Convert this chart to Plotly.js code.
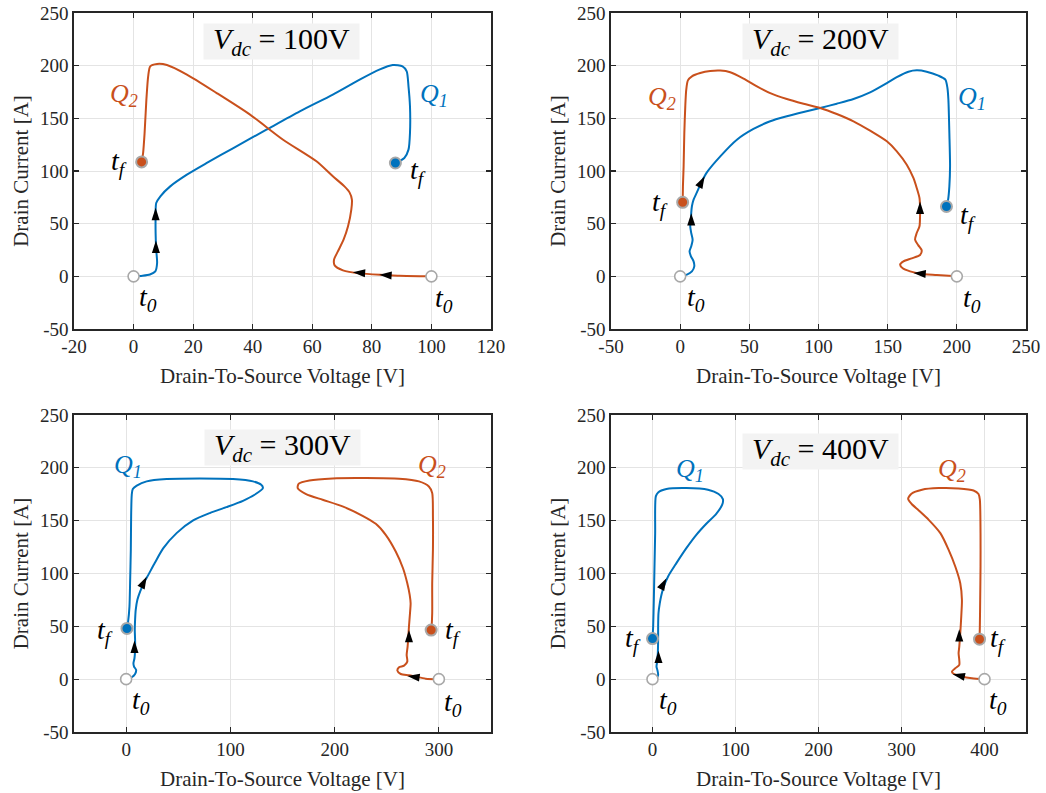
<!DOCTYPE html>
<html>
<head>
<meta charset="utf-8">
<script src="https://cdn.plot.ly/plotly-3.0.1.min.js"></script>
<style>
  html, body { margin: 0; padding: 0; background: #ffffff; }
  #chart { width: 1046px; height: 793px; }
</style>
</head>
<body>
<div id="chart"></div>
<script>
// Switching trajectories (drain current vs drain-to-source voltage) of the two
// devices Q1 and Q2 for four DC-link voltages.

const dcVoltages = [100, 200, 300, 400];

// ---- Vdc = 100 V ----
const q1V_100 = [0, 3, 5.5, 7.3, 7.9, 7.6, 7.4, 7.4, 7.6, 9.0, 12.3, 17.9, 24.6, 33.5, 44.6, 55.8, 66.9, 75.9, 82.5, 87, 90.3, 91.7, 92.3, 92.8, 92.8, 92.3, 90.9, 87.9];
const q1I_100 = [0, 0.6, 1.8, 4.7, 12.7, 25.3, 41, 57, 69.6, 76, 85.4, 96.5, 107.6, 121.8, 139.2, 156.6, 172.5, 186.7, 196.2, 200.6, 199.4, 194.6, 180.4, 161.4, 136, 120.3, 112.3, 107.6];
const q2V_100 = [100, 89.2, 84.8, 75.9, 70.3, 67.5, 67.3, 68.6, 70.5, 72, 73.1, 73.3, 72.5, 70.8, 66.9, 61.4, 50.2, 39.1, 27.9, 17.9, 11.2, 7.9, 5.6, 4.9, 4.3, 3.7, 3.2, 2.7];
const q2I_100 = [0, 0.6, 1.3, 2.8, 5.7, 10.4, 15.8, 23.7, 34.8, 47.5, 63.3, 72.8, 79.7, 85.4, 95, 109.2, 129.7, 153.5, 174, 191.5, 200.6, 201.6, 199.4, 189.9, 167.7, 136, 117, 108.6];

// ---- Vdc = 200 V ----
const q1V_200 = [0, 4.9, 8.5, 10.2, 9.7, 7.8, 6.8, 8.0, 9.0, 8.0, 7.3, 7.8, 8.0, 8.5, 9.7, 12.1, 15.7, 19.3, 29, 41, 53, 65.1, 77.1, 89.2, 101.2, 113.2, 125.3, 137.3, 149.4, 156.6, 165, 171, 178.2, 186.7, 191.7, 193.2, 193.9, 194.6, 195.1, 194.6, 193.7, 192.5];
const q1I_200 = [0, 1.6, 4.7, 9.5, 14.2, 19, 23.7, 28.5, 34.8, 41.1, 47.5, 53.8, 60.1, 66.5, 72.8, 79.7, 90.2, 98.7, 113.9, 129.7, 139.9, 147.2, 151.9, 156, 159.8, 163.9, 168.4, 174.7, 183.5, 189.2, 194.3, 195.6, 194.3, 190.5, 186.7, 178.8, 167.7, 136, 104.4, 85.4, 72.8, 66.3];
const q2V_200 = [200, 185.5, 173.4, 166.2, 160.9, 159, 161.4, 167.4, 173.4, 174.6, 172.2, 169.8, 171, 173, 173.4, 173.4, 173, 171, 168.6, 163.8, 156.6, 149.4, 137.3, 125.3, 113.2, 101.2, 89.2, 77.1, 65.1, 55.5, 45.8, 36.2, 29, 21.7, 14.5, 8.5, 5.6, 4.4, 3.7, 3, 2.5, 2, 1.8];
const q2I_200 = [0, 1.3, 2.5, 4.7, 7.6, 11.1, 14.2, 17.1, 20.3, 24.7, 29.4, 34.8, 41.1, 47.5, 57, 66.5, 74.4, 83.9, 93.4, 106, 118.7, 128.2, 138.3, 147.2, 154.1, 159.8, 163.9, 168.4, 174, 180.4, 187.7, 193.7, 195.3, 194.9, 193, 189.9, 186, 177.2, 161.4, 136, 104.4, 85.4, 70.3];

// ---- Vdc = 300 V ----
const q1V_300 = [0, 5.4, 8.6, 9.6, 7.6, 7, 8, 8.6, 8.6, 8.3, 8.6, 9.2, 10.8, 13.4, 17.2, 21.3, 27.7, 35.7, 48.4, 64.3, 80.3, 96.2, 112.1, 123.2, 131.2, 129.6, 121.7, 102.5, 70.7, 38.9, 19.7, 10.2, 6.4, 5.4, 4.8, 4.5, 3.8, 3.2, 1.9, 0.8];
const q1I_300 = [0, 1.8, 4.9, 8.7, 11.9, 15.1, 19.8, 27.7, 37.2, 46.6, 56.1, 65.6, 75.1, 82.9, 91.5, 98.7, 110.4, 124, 138.2, 150.2, 157.2, 162.8, 168.8, 174.5, 180.8, 184, 187.2, 189.4, 190, 189.4, 187.2, 183.1, 179.9, 174.5, 154, 122.4, 90.8, 68.7, 54.5, 48];
const q2V_300 = [300, 287.3, 277.7, 271.3, 263.4, 260.2, 261.8, 266.6, 269.7, 269.1, 270, 270.7, 271.3, 272.3, 272.9, 272, 269.7, 265.6, 258.6, 249, 239.5, 226.8, 207.6, 188.5, 172.6, 164.6, 165.6, 175.8, 198.1, 229.9, 261.8, 280.9, 290.4, 293.6, 294.3, 294.3, 293.6, 293.6, 293, 292.6];
const q2I_300 = [0, 0.5, 2.4, 3.7, 4.9, 8.1, 11.3, 12.8, 16.6, 22.9, 30.8, 40.3, 49.8, 62.4, 71.9, 79.8, 90.8, 105, 120.8, 136.6, 147, 154.6, 163.5, 169.8, 175.2, 180.8, 185, 188.1, 190, 190.3, 189.7, 187.2, 182.4, 176.1, 154, 122.4, 90.8, 62.4, 49.8, 46.5];

// ---- Vdc = 400 V ----
const q1V_400 = [0, 4.8, 6.8, 6, 4.8, 5.6, 6.4, 6.8, 6.8, 7.2, 8.8, 10.8, 13.6, 18.8, 28.8, 40.8, 52.8, 64.8, 76.8, 84, 84.8, 79.6, 66.8, 40.8, 16.8, 6.8, 4, 3.2, 2.4, 1.6, 0.8, 0];
const q1I_400 = [0, 0.9, 4.1, 8.2, 11.9, 16.6, 24.5, 37.2, 49.8, 62.4, 71.9, 79.8, 87.7, 97.2, 109.8, 124, 136.6, 147.1, 156.5, 165.1, 170.4, 175.2, 179.3, 180.8, 179.9, 176.7, 173, 138.2, 106.6, 75.1, 49.8, 38.4];
const q2V_400 = [400, 384.8, 372.8, 362.8, 360.8, 364.8, 369.6, 369.6, 368.8, 369.6, 370.8, 372, 372.8, 370.8, 364.8, 356.8, 346.8, 332.8, 320.8, 312, 308, 312, 324.8, 344.8, 368.8, 386.8, 392.8, 394.4, 395.2, 395.2, 394.8, 394.4, 394];
const q2I_400 = [0, 0.9, 2.5, 5.1, 7.2, 10.3, 13.5, 18.2, 24.5, 30.8, 43.5, 59.3, 75.1, 90.8, 106.6, 122.4, 138.2, 150.8, 159.7, 166, 170.7, 175.5, 179.3, 180.8, 180.5, 178.6, 175.2, 169.8, 138.2, 106.6, 75.1, 49.8, 37.8];

// Direction arrows along each trajectory: tip voltage, tip current, heading (deg, clockwise from up)
const q1ArrowV = [[7.5, 7.4], [8, 17.7], [8, 19.7], [7.2, 16.8]];
const q1ArrowI = [[34, 65], [60, 95], [36.5, 97], [27, 95.6]];
const q1ArrowDir = [[0, 0], [0, 28], [0, 27], [0, 28]];
const q2ArrowV = [[82.5, 73.6], [168.6, 173.4], [269.7, 271.3], [361.6, 369.6]];
const q2ArrowI = [[1.6, 3.8], [3.2, 71], [3.1, 46.6], [4.6, 47.3]];
const q2ArrowDir = [[-86, -86], [-85, 0], [-82, 0], [-78, 0]];

const curves = [
  [[q1V_100, q1I_100], [q2V_100, q2I_100]],
  [[q1V_200, q1I_200], [q2V_200, q2I_200]],
  [[q1V_300, q1I_300], [q2V_300, q2I_300]],
  [[q1V_400, q1I_400], [q2V_400, q2I_400]]
];

// ---------- presentation ----------
const W = 1046, H = 793;
const BLUE = '#0072BD', ORANGE = '#C9501C';
const SERIF = 'Liberation Serif, Times New Roman, Times, serif';
const AX_COLOR = '#262626';

// plot boxes in pixels: [left, right, top, bottom]
const boxes = [
  [74, 491, 13, 329],
  [611, 1026, 13, 329],
  [74, 491, 415, 732],
  [611, 1026, 415, 732]
];
const xRanges = [[-20, 120], [-50, 250], [-50, 350], [-50, 450]];
const xTicks = [[-20, 0, 20, 40, 60, 80, 100, 120], [-50, 0, 50, 100, 150, 200, 250], [0, 100, 200, 300], [0, 100, 200, 300, 400]];

// text placement in data units per panel
const boxPos = [[49.8, 222.9], [101.4, 222.9], [149.8, 219.5], [202.4, 215.7]];
const q1LabelPos = [[101, 172.5], [210.7, 169.3], [2.2, 201.4], [44.8, 198]];
const q2LabelPos = [[-3.3, 172.5], [-13.2, 169.3], [293.6, 201.4], [360.8, 198]];
const q1TfPos = [[95.4, 100], [208.3, 57], [-20, 45], [-24, 37.2]];
const q2TfPos = [[-5, 107.6], [-14.4, 69.6], [314, 45], [416.8, 37.2]];
const q1T0Pos = [[5, -20.6], [11.6, -20.6], [14.3, -21.3], [18.8, -21.3]];
const q2T0Pos = [[104.3, -22], [210.7, -22], [313.4, -23], [416.8, -21.3]];

const traces = [];
const annotations = [];
const layout = {
  width: W, height: H,
  margin: {l: 0, r: 0, t: 0, b: 0},
  paper_bgcolor: '#ffffff',
  plot_bgcolor: '#ffffff',
  showlegend: false,
  font: {family: SERIF, color: AX_COLOR, size: 19},
  annotations: annotations
};

function axisCommon() {
  return {
    showline: true, linecolor: AX_COLOR, linewidth: 1.6, mirror: 'allticks',
    ticks: 'inside', ticklen: 5, tickwidth: 1.2, tickcolor: AX_COLOR,
    showgrid: true, gridcolor: '#e4e4e4', gridwidth: 1,
    zeroline: false,
    tickfont: {family: SERIF, size: 19, color: AX_COLOR},
    fixedrange: true
  };
}

dcVoltages.forEach((vdc, p) => {
  const n = p === 0 ? '' : String(p + 1);
  const xa = 'x' + n, ya = 'y' + n;
  const [l, r, t, b] = boxes[p];

  layout['xaxis' + n] = Object.assign(axisCommon(), {
    domain: [l / W, r / W], range: xRanges[p], anchor: ya,
    tickmode: 'array', tickvals: xTicks[p], ticktext: xTicks[p].map(String),
    title: {text: 'Drain-To-Source Voltage [V]', font: {family: SERIF, size: 21, color: AX_COLOR}, standoff: 12}
  });
  layout['yaxis' + n] = Object.assign(axisCommon(), {
    domain: [1 - b / H, 1 - t / H], range: [-50, 250], anchor: xa,
    tickmode: 'array', tickvals: [-50, 0, 50, 100, 150, 200, 250],
    ticktext: ['-50', '0', '50', '100', '150', '200', '250'],
    title: {text: 'Drain Current [A]', font: {family: SERIF, size: 21, color: AX_COLOR}, standoff: 6}
  });

  const colors = [BLUE, ORANGE];
  curves[p].forEach(([vs, is], k) => {
    traces.push({
      type: 'scatter', mode: 'lines', x: vs, y: is, xaxis: xa, yaxis: ya,
      line: {color: colors[k], width: 2, shape: 'spline', smoothing: 0.7},
      hoverinfo: 'skip'
    });
  });

  // direction arrows
  [[q1ArrowV, q1ArrowI, q1ArrowDir], [q2ArrowV, q2ArrowI, q2ArrowDir]].forEach(([av, ai, ad]) => {
    traces.push({
      type: 'scatter', mode: 'markers', x: av[p], y: ai[p], xaxis: xa, yaxis: ya,
      marker: {symbol: 'arrow', size: 13, color: '#000000', angle: ad[p], line: {width: 0}},
      hoverinfo: 'skip'
    });
  });

  // start (t0) and end (tf) markers taken from the trajectory ends
  curves[p].forEach(([vs, is], k) => {
    traces.push({
      type: 'scatter', mode: 'markers', x: [vs[0]], y: [is[0]], xaxis: xa, yaxis: ya,
      marker: {symbol: 'circle', size: 11, color: '#ffffff', line: {color: '#a8a8a8', width: 1.6}},
      hoverinfo: 'skip'
    });
    traces.push({
      type: 'scatter', mode: 'markers', x: [vs[vs.length - 1]], y: [is[is.length - 1]], xaxis: xa, yaxis: ya,
      marker: {symbol: 'circle', size: 11, color: colors[k], line: {color: '#a8a8a8', width: 2}},
      hoverinfo: 'skip'
    });
  });

  // Vdc box
  annotations.push({
    xref: xa, yref: ya, x: boxPos[p][0], y: boxPos[p][1], xanchor: 'center', yanchor: 'middle',
    text: '<i>V</i><sub><i>dc</i></sub> = ' + vdc + 'V', showarrow: false,
    font: {family: SERIF, size: 30, color: '#000000'},
    bgcolor: '#f3f3f3', width: 155, height: 35, borderpad: 0
  });

  const label = (pos, text, color, size) => annotations.push({
    xref: xa, yref: ya, x: pos[0], y: pos[1], xanchor: 'center', yanchor: 'middle',
    text: text, showarrow: false, font: {family: SERIF, size: size, color: color}
  });
  label(q1LabelPos[p], '<i>Q<sub>1</sub></i>', BLUE, 26);
  label(q2LabelPos[p], '<i>Q<sub>2</sub></i>', ORANGE, 26);
  label(q1TfPos[p], '<i>t<sub>f</sub></i>', '#000000', 28);
  label(q2TfPos[p], '<i>t<sub>f</sub></i>', '#000000', 28);
  label(q1T0Pos[p], '<i>t<sub>0</sub></i>', '#000000', 28);
  label(q2T0Pos[p], '<i>t<sub>0</sub></i>', '#000000', 28);
});

Plotly.newPlot('chart', traces, layout, {staticPlot: true, displayModeBar: false});
</script>
</body>
</html>
